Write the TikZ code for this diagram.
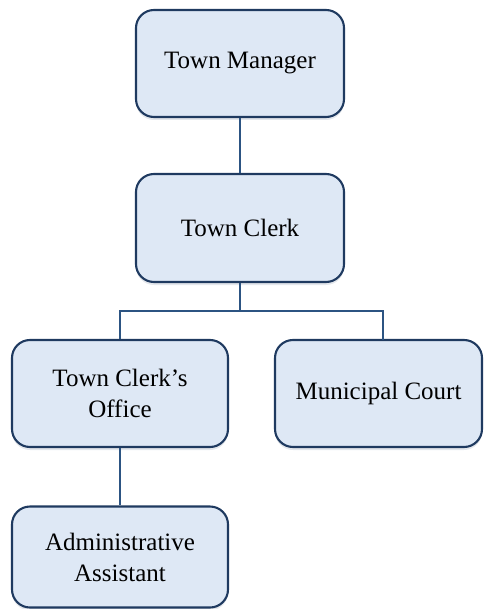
\documentclass[tikz,border=0pt]{standalone}
\usepackage{fontspec}
\setmainfont{Liberation Serif}
\usetikzlibrary{shadows}
\definecolor{boxfill}{RGB}{222,232,245}
\definecolor{boxline}{RGB}{31,58,96}
\definecolor{linkline}{RGB}{44,84,130}
\tikzset{
  orgbox/.style={rectangle, rounded corners=18pt, draw=boxline, line width=2.1pt,
    fill=boxfill, align=center, inner sep=0pt,
    font=\fontsize{25}{31}\selectfont,
    drop shadow={shadow xshift=0pt, shadow yshift=-3pt, opacity=0.12, fill=boxline}},
  link/.style={draw=linkline, line width=2.8pt}
}
\begin{document}
\begin{tikzpicture}[x=1pt, y=-1pt]
  \useasboundingbox (0,0) rectangle (483,609);
  % branching points of the tree
  \coordinate (bar) at (240,311);
  \coordinate (mcdrop) at (383,340);
  % positions
  \node[orgbox, minimum width=208pt, minimum height=107pt] (tm) at (240,63.5) {Town Manager};
  \node[orgbox, minimum width=208pt, minimum height=108pt] (tc) at (240,228) {Town Clerk};
  \node[orgbox, minimum width=216pt, minimum height=107pt] (office) at (120,393.5) {Town Clerk’s\\Office};
  \node[orgbox, minimum width=207pt, minimum height=107pt] (mc) at (378.5,393.5) {Municipal Court};
  \node[orgbox, minimum width=216pt, minimum height=101pt] (admin) at (120,557) {Administrative\\Assistant};
  % reporting lines
  \draw[link] (tm.south) -- (tc.north);
  \draw[link] (tc.south) -- (bar) -| (office.north);
  \draw[link] (bar) -| (mcdrop);
  \draw[link] (office.south) -- (admin.north);
\end{tikzpicture}
\end{document}
